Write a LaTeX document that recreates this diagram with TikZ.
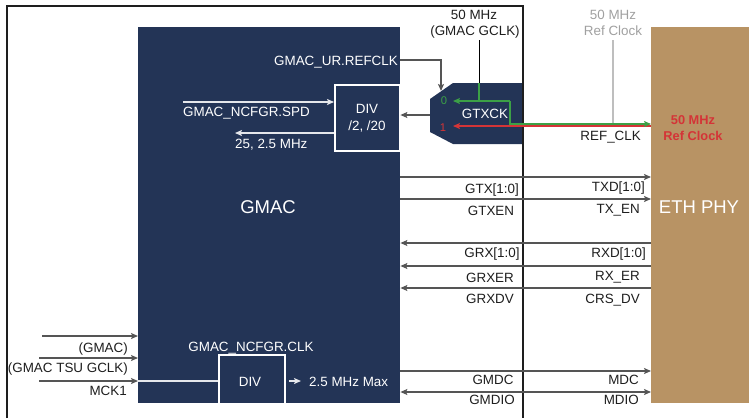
\documentclass[tikz,border=0pt]{standalone}
\usepackage{fontspec}
\setmainfont{Liberation Sans}
\usetikzlibrary{arrows.meta}
\definecolor{navy}{RGB}{35,52,86}
\definecolor{tan}{RGB}{184,147,100}
\definecolor{txtdark}{RGB}{30,30,30}
\definecolor{sigcol}{RGB}{85,85,85}
\definecolor{framecol}{RGB}{30,30,30}
\definecolor{gclk}{RGB}{60,160,70}
\definecolor{rclk}{RGB}{212,52,55}
\definecolor{refgray}{RGB}{160,160,160}
\definecolor{refline}{RGB}{190,190,190}
\tikzset{
  lbl/.style={inner sep=0pt, font=\fontsize{13.4}{15}\selectfont, text=txtdark},
  wlbl/.style={lbl, text=white},
  biglbl/.style={inner sep=0pt, font=\fontsize{18.5}{20}\selectfont, text=white},
  blockbox/.style={draw=none, inner sep=0pt, anchor=north west},
  divbox/.style={draw=white, line width=1.6pt, fill=navy, inner sep=0pt, anchor=north west},
  sig/.style={draw=sigcol, line width=1.2pt},
  wline/.style={draw=white!88!navy, line width=1.2pt},
  tip/.style={-{Stealth[length=7pt,width=6pt,inset=1.5pt]}},
  ltip/.style={{Stealth[length=7pt,width=6pt,inset=1.5pt]}-},
  btip/.style={{Stealth[length=7pt,width=6pt,inset=1.5pt]}-{Stealth[length=7pt,width=6pt,inset=1.5pt]}},
}
\begin{document}
\begin{tikzpicture}[x=1pt,y=-1pt]
\useasboundingbox (0,0) rectangle (749,418);
% blocks
\node[blockbox, fill=navy, minimum width=262pt, minimum height=376pt] (gmac) at (138,27) {};
\node[blockbox, fill=tan, minimum width=98pt, minimum height=376pt] (phy) at (651,27) {};
\node[divbox, minimum width=65pt, minimum height=66pt] (div1) at (334,84) {};
\node[divbox, minimum width=66pt, minimum height=49pt] (div2) at (218,354) {};
% mux
\fill[navy] (430,99) -- (453,83) -- (523,83) -- (523,144) -- (453,144) -- (430,132) -- cycle;
\coordinate (muxL) at (430,115);
\coordinate (mux0) at (453,101);
\coordinate (mux1) at (453,126);
\coordinate (muxtop) at (441,91);
% frame
\draw[line width=2pt, framecol] (7,418) -- (7,6) -- (523,6) -- (523,418);
% texts in GMAC
\node[biglbl, anchor=base] (tgmac) at (268,213) {GMAC};
\node[biglbl, anchor=base] (tphy) at (699,213) {ETH PHY};
\node[wlbl, anchor=base east] (turef) at (398,65) {GMAC\_UR.REFCLK};
\node[wlbl, anchor=base west] (tspd) at (183,116.7) {GMAC\_NCFGR.SPD};
\node[wlbl, anchor=base west] (t25) at (235,148) {25, 2.5 MHz};
\node[wlbl, anchor=base] (tdiv1a) at (367,113) {DIV};
\node[wlbl, anchor=base] (tdiv1b) at (367,130) {/2, /20};
\node[wlbl, anchor=base] (tclk) at (251,351) {GMAC\_NCFGR.CLK};
\node[wlbl, anchor=base] (tdiv2) at (250,386) {DIV};
\node[wlbl, anchor=base west] (t25max) at (309,386) {2.5 MHz Max};
\node[wlbl, anchor=base] (tgtxck) at (485,118) {GTXCK};
\node[inner sep=0pt, font=\fontsize{11.2}{13}\selectfont, text=gclk, anchor=base] (t0) at (444,104.5) {0};
\node[inner sep=0pt, font=\fontsize{11.2}{13}\selectfont, text=rclk, anchor=base] (t1) at (443,131) {1};
% top labels
\node[lbl, anchor=base] (tgc1) at (474,19.5) {50 MHz};
\node[lbl, anchor=base] (tgc2) at (475,35) {(GMAC GCLK)};
\node[lbl, text=refgray, anchor=base] (trc1) at (613,19.5) {50 MHz};
\node[lbl, text=refgray, anchor=base] (trc2) at (613,35) {Ref Clock};
\node[lbl, anchor=base east] (trefclk) at (641,140) {REF\_CLK};
\node[lbl, text=rclk, font=\fontsize{12.8}{14}\selectfont\bfseries, anchor=base] (tr1) at (693,124) {50 MHz};
\node[lbl, text=rclk, font=\fontsize{12.8}{14}\selectfont\bfseries, anchor=base] (tr2) at (693,140) {Ref Clock};
% internal white connectors
\coordinate (spdS) at (183,102);
\draw[wline, tip] (spdS) -- (spdS -| div1.west);
\coordinate (f25) at (235,133);
\draw[wline, tip] (f25 -| div1.west) -- (f25);
\coordinate (mck) at (0,381);
\draw[wline] (gmac.west |- mck) -- (div2.west |- mck);
\coordinate (outS) at (289,381);
\coordinate (outE) at (301,381);
\draw[wline, tip] (outS) -- (outE);
% refclk to mux
\coordinate (urc) at (441,60);
\draw[sig, tip] (gmac.east |- urc) -- (urc) -- (muxtop);
\draw[sig, tip] (muxL) -- (muxL -| gmac.east);
% clocks
\coordinate (gtop) at (479,40);
\coordinate (gmid) at (479,83);
\coordinate (gj) at (479,101);
\coordinate (gr) at (510,101);
\coordinate (gd) at (510,124);
\draw[line width=1pt, black] (gtop) -- (gmid);
\draw[line width=1.2pt, gclk] (gmid) -- (gj);
\draw[line width=1.2pt, gclk, tip] (gr) -- (mux0);
\draw[line width=1.6pt, refline] (613,40) -- (613,124);
\draw[line width=1.2pt, rclk, tip] (phy.west |- mux1) -- (mux1);
\draw[line width=1.2pt, gclk, tip] (gr) -- (gd) -- (gd -| phy.west);
% signals
\foreach \yy/\dir in {177/tip, 199/tip, 243/ltip, 266/ltip, 288/ltip, 371/tip, 392/btip}{
  \coordinate (s) at (0,\yy);
  \draw[sig, \dir] (gmac.east |- s) -- (phy.west |- s);
}
\node[lbl, anchor=base] (lgtx) at (492,193) {GTX[1:0]};
\node[lbl, anchor=base east] (rtxd) at (645,191.5) {TXD[1:0]};
\node[lbl, anchor=base] (lgtxen) at (491,215) {GTXEN};
\node[lbl, anchor=base east] (rtxen) at (640,213.5) {TX\_EN};
\node[lbl, anchor=base] (lgrx) at (492,257) {GRX[1:0]};
\node[lbl, anchor=base east] (rrxd) at (646,257) {RXD[1:0]};
\node[lbl, anchor=base] (lgrxer) at (490,282) {GRXER};
\node[lbl, anchor=base east] (rrxer) at (640,280) {RX\_ER};
\node[lbl, anchor=base] (lgrxdv) at (490,303) {GRXDV};
\node[lbl, anchor=base east] (rcrs) at (640,303) {CRS\_DV};
\node[lbl, anchor=base] (lgmdc) at (493,384) {GMDC};
\node[lbl, anchor=base east] (rmdc) at (639,384) {MDC};
\node[lbl, anchor=base] (lgmdio) at (492,404) {GMDIO};
\node[lbl, anchor=base east] (rmdio) at (639,404) {MDIO};
% left inputs
\coordinate (i1) at (42,336);
\coordinate (i2) at (39,358);
\coordinate (i3) at (39,381);
\draw[sig, tip] (i1) -- (i1 -| gmac.west);
\draw[sig, tip] (i2) -- (i2 -| gmac.west);
\draw[sig, tip] (i3) -- (i3 -| gmac.west);
\node[lbl, anchor=base east] (tin1) at (128,352) {(GMAC)};
\node[lbl, anchor=base east] (tin2) at (128,372.5) {(GMAC TSU GCLK)};
\node[lbl, anchor=base east] (tin3) at (127,395) {MCK1};
\end{tikzpicture}
\end{document}
